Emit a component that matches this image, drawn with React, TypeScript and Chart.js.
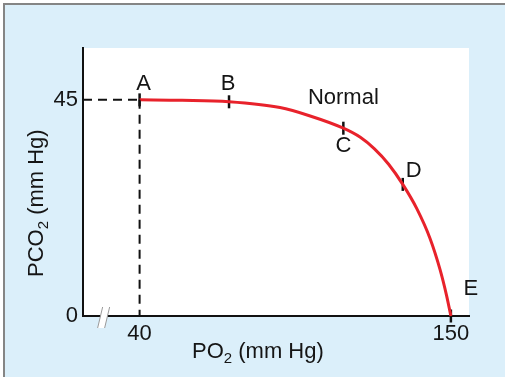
import React, { useEffect, useRef } from "react";
import { Chart, registerables } from "chart.js";

Chart.register(...registerables);

// ---- data ----
const curveX = [40, 55, 71.6, 89.6, 100, 112, 118, 123, 128, 133, 138, 142.6, 146.2, 148.5, 150];
const curveY = [45, 44.9, 44.6, 43.4, 41.7, 39.1, 37.2, 34.8, 31.6, 27.4, 22.3, 16.2, 9.6, 4.2, 0];
const markerNames = ["A", "B", "C", "D", "E"];
const markerX = [40, 71.6, 112, 133, 150];
const markerY = [45, 44.6, 39.1, 27.4, 0];
const normalLabel = "Normal";
const normalIndex = 2; // attached to C
const xTickValues = [40, 150];
const yTickValues = [0, 45];
const refPointX = 40;
const refPointY = 45;
const xMin = 20;
const xMax = 156.4;
const yMin = 0;
const yMax = 55.8;
const axisBreakValue = 28;
const xTitleParts = [{ t: "PO" }, { t: "2", sub: true }, { t: " (mm Hg)" }];
const yTitleParts = [{ t: "PCO" }, { t: "2", sub: true }, { t: " (mm Hg)" }];

// ---- style ----
const FONT = "'Liberation Sans', Arial, Helvetica, sans-serif";
const TEXT = "#151515";
const RED = "#e8222b";
const BLUE_BG = "rgb(219,239,250)";
// pixel offsets of marker labels from their point
const labelOffsets = [
  [4, -16],
  [-1, -18],
  [0, 18],
  [11, -13],
  [20, -27],
];
const normalOffset = [0, -30];

function drawParts(ctx: CanvasRenderingContext2D, parts: any[], x: number, y: number) {
  let cx = x;
  for (const p of parts) {
    ctx.font = p.sub ? `15px ${FONT}` : `22px ${FONT}`;
    ctx.fillText(p.t, cx, p.sub ? y + 5 : y);
    cx += ctx.measureText(p.t).width;
  }
}

const bgPlugin = {
  id: "bgPlugin",
  beforeDraw(chart: any) {
    const { ctx, width, height, chartArea } = chart;
    ctx.save();
    ctx.fillStyle = "#ffffff";
    ctx.fillRect(0, 0, width, height);
    ctx.fillStyle = BLUE_BG;
    ctx.fillRect(4, 4, width - 4, height - 4);
    ctx.strokeStyle = "#858585";
    ctx.lineWidth = 2;
    ctx.beginPath();
    ctx.moveTo(4, height);
    ctx.lineTo(4, 4);
    ctx.lineTo(width, 4);
    ctx.stroke();
    ctx.fillStyle = "#ffffff";
    ctx.fillRect(chartArea.left, chartArea.top, chartArea.right - chartArea.left, chartArea.bottom - chartArea.top);
    ctx.restore();
  },
};

const annoPlugin = {
  id: "annoPlugin",
  afterDraw(chart: any) {
    const { ctx } = chart;
    const xs = chart.scales.x;
    const ys = chart.scales.y;
    ctx.save();
    // axis break
    const bx = xs.getPixelForValue(axisBreakValue);
    const by = ys.getPixelForValue(0);
    ctx.fillStyle = "#ffffff";
    ctx.beginPath();
    ctx.moveTo(bx - 8, by + 12);
    ctx.lineTo(bx - 3, by - 9);
    ctx.lineTo(bx + 4, by - 9);
    ctx.lineTo(bx - 1, by + 12);
    ctx.closePath();
    ctx.fill();
    ctx.strokeStyle = "#9a9a9a";
    ctx.lineWidth = 1;
    ctx.beginPath();
    ctx.moveTo(bx - 8, by + 12);
    ctx.lineTo(bx - 3, by - 9);
    ctx.moveTo(bx - 1, by + 12);
    ctx.lineTo(bx + 4, by - 9);
    ctx.stroke();

    // marker labels
    ctx.fillStyle = TEXT;
    ctx.textAlign = "center";
    ctx.textBaseline = "middle";
    ctx.font = `22px ${FONT}`;
    markerNames.forEach((n, i) => {
      const px = xs.getPixelForValue(markerX[i]);
      const py = ys.getPixelForValue(markerY[i]);
      ctx.fillText(n, px + labelOffsets[i][0], py + labelOffsets[i][1]);
    });
    const npx = xs.getPixelForValue(markerX[normalIndex]);
    const npy = ys.getPixelForValue(markerY[normalIndex]);
    ctx.fillText(normalLabel, npx + normalOffset[0], npy + normalOffset[1]);

    // axis titles
    ctx.textAlign = "left";
    ctx.textBaseline = "alphabetic";
    drawParts(ctx, xTitleParts, 192, 358);
    ctx.translate(43, 277);
    ctx.rotate(-Math.PI / 2);
    drawParts(ctx, yTitleParts, 0, 0);
    ctx.restore();
  },
};

export default function App() {
  const ref = useRef<HTMLCanvasElement>(null);
  useEffect(() => {
    if (!ref.current) return;
    const chart = new Chart(ref.current, {
      type: "line",
      data: {
        datasets: [
          {
            data: [
              { x: xMin, y: refPointY },
              { x: refPointX, y: refPointY },
            ],
            borderColor: "#111",
            borderWidth: 2,
            borderDash: [9, 6],
            pointRadius: 0,
            clip: false as any,
          },
          {
            data: [
              { x: refPointX, y: refPointY },
              { x: refPointX, y: 0 },
            ],
            borderColor: "#111",
            borderWidth: 2,
            borderDash: [9, 6],
            pointRadius: 0,
            clip: false as any,
          },
          {
            data: curveX.map((x, i) => ({ x, y: curveY[i] })),
            borderColor: RED,
            borderWidth: 3,
            pointRadius: 0,
            cubicInterpolationMode: "monotone",
            clip: false as any,
          },
          {
            data: markerX.map((x, i) => ({ x, y: markerY[i] })),
            showLine: false,
            pointStyle: "line",
            rotation: 90,
            pointRadius: 6.5,
            borderColor: "#111",
            borderWidth: 2.5,
            clip: false as any,
          } as any,
        ],
      },
      options: {
        responsive: false,
        animation: false,
        devicePixelRatio: 1,
        layout: { padding: { top: 48, right: 36, left: 0, bottom: 0 } },
        plugins: { legend: { display: false }, tooltip: { enabled: false } },
        scales: {
          x: {
            type: "linear",
            min: xMin,
            max: xMax,
            afterBuildTicks: (s: any) => {
              s.ticks = xTickValues.map((v) => ({ value: v }));
            },
            afterFit: (s: any) => {
              s.height = 61;
            },
            grid: { display: true, drawOnChartArea: false, drawTicks: false },
            border: { display: true, color: "#111", width: 2 },
            ticks: {
              padding: 5,
              color: TEXT,
              font: { family: FONT, size: 22 },
              callback: (v: any) => String(v),
            },
          },
          y: {
            type: "linear",
            min: yMin,
            max: yMax,
            afterBuildTicks: (s: any) => {
              s.ticks = yTickValues.map((v) => ({ value: v }));
            },
            afterFit: (s: any) => {
              s.width = 83;
            },
            grid: { display: true, drawOnChartArea: false, drawTicks: false },
            border: { display: true, color: "#111", width: 2 },
            ticks: {
              padding: 5,
              color: TEXT,
              font: { family: FONT, size: 22 },
              callback: (v: any) => String(v),
            },
          },
        },
      },
      plugins: [bgPlugin, annoPlugin],
    });
    return () => chart.destroy();
  }, []);
  return (
    <div style={{ position: "fixed", left: 0, top: 0, width: 505, height: 377 }}>
      <canvas ref={ref} width={505} height={377} style={{ display: "block" }} />
    </div>
  );
}
